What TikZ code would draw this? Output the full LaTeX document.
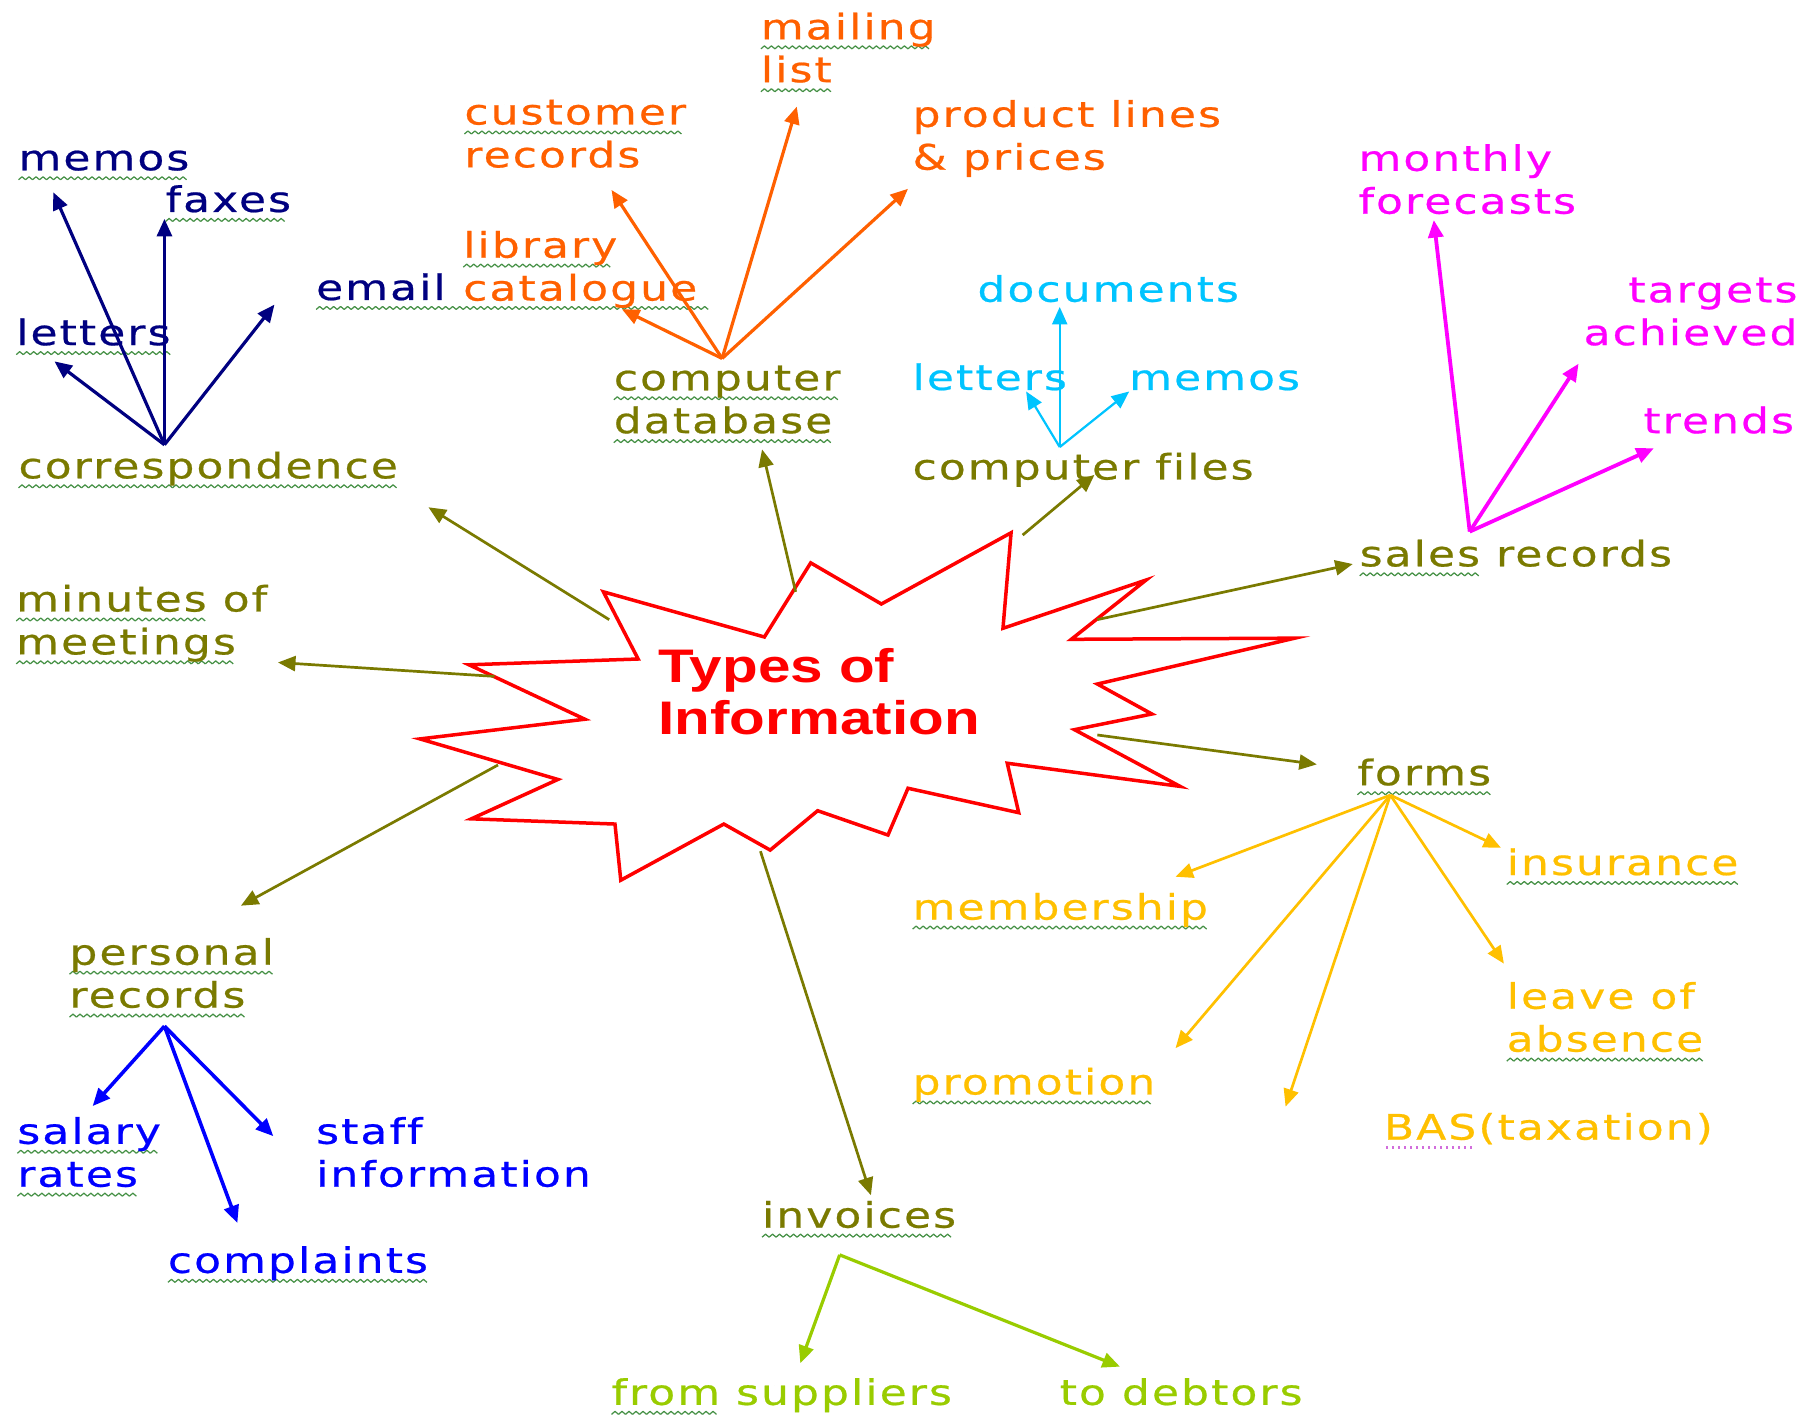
\documentclass[tikz,border=0pt]{standalone}
\usepackage{fontspec}
\usetikzlibrary{arrows.meta}
\newfontfamily\lblfont[FakeStretch=1.25,LetterSpace=6,Ligatures=NoCommon,FakeBold=0.6]{DejaVu Sans}
\newfontfamily\titlefont[FakeStretch=1.24]{Liberation Sans}
\definecolor{cNavy}{HTML}{000080}
\definecolor{cOlive}{HTML}{7A7A00}
\definecolor{cOrange}{HTML}{FF6000}
\definecolor{cCyan}{HTML}{00C4FF}
\definecolor{cMag}{HTML}{FF00FF}
\definecolor{cBlue}{HTML}{0000FF}
\definecolor{cGold}{HTML}{FFC000}
\definecolor{cLime}{HTML}{99CC00}
\definecolor{cRed}{HTML}{FF0000}
\definecolor{cSq}{RGB}{70,145,70}
\definecolor{cPink}{RGB}{210,110,220}
\newsavebox\zigbox
\newsavebox\dotbox
\newsavebox\sqtmp
\newcommand\sq[2][0pt]{\sbox\sqtmp{#2}\leavevmode\rlap{\raisebox{-0.95mm}[0pt][0pt]{\leaders\copy\zigbox\hskip\dimexpr\wd\sqtmp+#1\relax}}#2}
\newcommand\dq[1]{\sbox\sqtmp{#1}\leavevmode\rlap{\raisebox{-0.9mm}[0pt][0pt]{\leaders\copy\dotbox\hskip\wd\sqtmp}}#1}
\begin{document}
\sbox\zigbox{\begin{pgfpicture}%
\pgfpathrectangle{\pgfpoint{0mm}{0mm}}{\pgfpoint{0.7mm}{0.3mm}}\pgfusepath{use as bounding box}%
\pgfpathmoveto{\pgfpoint{0mm}{0mm}}\pgfpathlineto{\pgfpoint{0.35mm}{0.3mm}}\pgfpathlineto{\pgfpoint{0.7mm}{0mm}}%
\pgfsetlinewidth{0.35pt}\pgfsetcolor{cSq}\pgfsetroundjoin\pgfusepath{stroke}%
\end{pgfpicture}}%
\sbox\dotbox{\hbox to 0.6mm{\hss\textcolor{cPink}{\rule{0.25mm}{0.25mm}}\hss}}%
\begin{tikzpicture}[x=0.115816mm,y=-0.115816mm,
  lbl/.style={font=\lblfont\fontsize{10}{12.2}\selectfont, anchor=base west, inner sep=0pt, outer sep=0pt, align=left},
  arr/.style={-{Triangle[length=1.75mm,width=1.5mm]}, line width=0.3mm},
  burst/.style={draw=cRed, line width=0.35mm, fill=white, line join=miter}]
\useasboundingbox (0,0) rectangle (1568,1224);
\fill[white] (0,0) rectangle (1568,1224);

% starburst
\draw[burst] (521,511) -- (660,550) -- (700,486) -- (761,521.5) -- (873,460) -- (866,542.5)
  -- (989.6,500.8) -- (925,552) -- (1118,551) -- (947.5,590.6) -- (994.6,616.5) -- (927.7,630)
  -- (1019,679) -- (869.7,659) -- (879.6,701.7) -- (784,680.6) -- (766.7,721) -- (706,700)
  -- (665,734) -- (625,711.5) -- (536,760) -- (531,711.5) -- (407,707) -- (481.7,673)
  -- (362.6,638) -- (505,621) -- (404.9,574) -- (551,569) -- cycle;
% (multi-line nodes are placed at the baseline of their last line)
\node[anchor=base west, inner sep=0pt, align=left, text=cRed, font=\titlefont\bfseries\fontsize{13.4}{14.8}\selectfont] (title) at (568,634.6) {Types of\\Information};

% ---- labels
\node[lbl, text=cNavy] (memosA) at (16,147) {\sq{memos}};
\node[lbl, text=cNavy] (faxes) at (143,183) {\sq{faxes}};
\node[lbl, text=cNavy] (lettersA) at (14,298) {\sq{letters}};
\node[lbl, text=cNavy] (email) at (273,259) {\sq[26.6mm]{email}};
\node[lbl, text=cOlive] (corr) at (16,413) {\sq{correspondence}};

\node[lbl, text=cOrange] (mailing) at (657,71) {\sq{mailing}\\\sq{list}};
\node[lbl, text=cOrange] (customer) at (401,144.5) {\sq{customer}\\records};
\node[lbl, text=cOrange] (product) at (788,146.5) {product lines\\\& prices};
\node[lbl, text=cOrange] (library) at (400,259.5) {\sq{library}\\catalogue};

\node[lbl, text=cOlive] (db) at (530,374) {\sq{computer}\\\sq{database}};
\node[lbl, text=cOlive] (files) at (788,414) {computer files};
\node[lbl, text=cOlive] (sales) at (1174,489) {\sq{sales} records};
\node[lbl, text=cOlive] (minutes) at (14,565) {\sq{minutes} of\\\sq{meetings}};
\node[lbl, text=cOlive] (personal) at (60,870) {\sq{personal}\\\sq{records}};
\node[lbl, text=cOlive] (forms) at (1172,678) {\sq{forms}};
\node[lbl, text=cOlive] (invoices) at (658,1060) {\sq{invoices}};

\node[lbl, text=cCyan] (documents) at (844,260.5) {documents};
\node[lbl, text=cCyan] (lettersB) at (788,336.7) {letters};
\node[lbl, text=cCyan] (memosB) at (975,336.7) {memos};

\node[lbl, text=cMag] (monthly) at (1173,184.5) {monthly\\forecasts};
\node[lbl, text=cMag, anchor=base east, align=right] (targets) at (1552,298) {targets\\achieved};
\node[lbl, text=cMag] (trends) at (1419,374) {trends};

\node[lbl, text=cBlue] (salary) at (15,1024.6) {\sq{salary}\\\sq{rates}};
\node[lbl, text=cBlue] (staff) at (273,1024.6) {staff\\information};
\node[lbl, text=cBlue] (complaints) at (145,1099) {\sq{complaints}};

\node[lbl, text=cGold] (membership) at (788,794) {\sq{membership}};
\node[lbl, text=cGold] (insurance) at (1301,755.5) {\sq{insurance}};
\node[lbl, text=cGold] (leave) at (1301,908) {leave of\\\sq{absence}};
\node[lbl, text=cGold] (promotion) at (788,945) {\sq{promotion}};
\node[lbl, text=cGold] (bas) at (1195,984) {\dq{BAS}(taxation)};

\node[lbl, text=cLime] (suppliers) at (528,1213) {\sq{from} suppliers};
\node[lbl, text=cLime] (debtors) at (915,1213) {to debtors};

% ---- hubs and tips
\coordinate (hCorr) at (142,384);
\coordinate (tMemosA) at (46,166);
\coordinate (tFaxes) at (142,189);
\coordinate (tLettersA) at (47,312);
\coordinate (tEmail) at (237,263);

\coordinate (hDb) at (623.5,309.5);
\coordinate (tMailing) at (688,92);
\coordinate (tProduct) at (784,163);
\coordinate (tCustomer) at (528,164);
\coordinate (tLibrary) at (537,267);

\coordinate (hFiles) at (915,386);
\coordinate (tDocuments) at (915,265);
\coordinate (tLettersB) at (886,338);
\coordinate (tMemosB) at (975,338);

\coordinate (hSales) at (1269,459);
\coordinate (tMonthly) at (1238,190);
\coordinate (tTargets) at (1363,314);
\coordinate (tTrends) at (1428,387);

\coordinate (hPersonal) at (142,886);
\coordinate (tSalary) at (80,955);
\coordinate (tComplaints) at (205,1056);
\coordinate (tStaff) at (236,981);

\coordinate (hForms) at (1200.5,686.5);
\coordinate (tMembership) at (1015,757);
\coordinate (tInsurance) at (1296,732);
\coordinate (tLeave) at (1298.5,832);
\coordinate (tPromotion) at (1015,905);
\coordinate (tBas) at (1110,955.5);

\coordinate (hInvoices) at (725,1083.5);
\coordinate (tSuppliers) at (691,1177);
\coordinate (tDebtors) at (967,1180);

% starburst exits
\coordinate (sCorr) at (526,535);
\coordinate (sDb) at (687,511);
\coordinate (sFiles) at (883,462);
\coordinate (sSales) at (947.5,535);
\coordinate (sForms) at (947.5,634.6);
\coordinate (sMinutes) at (427,584);
\coordinate (sPersonal) at (430,660.5);
\coordinate (sInvoices) at (656.6,735);
\coordinate (tCorr) at (370,438);
\coordinate (tDb) at (658,388);
\coordinate (tFiles) at (945,410);
\coordinate (tSales) at (1168,487);
\coordinate (tForms) at (1137,660);
\coordinate (tMinutes) at (240,572);
\coordinate (tPersonal) at (208,782);
\coordinate (tInvoices) at (752,1032);

% ---- connectors
\begin{scope}[arr, draw=cOlive, line width=0.27mm]
\draw (sCorr) -- (tCorr);
\draw (sDb) -- (tDb);
\draw (sFiles) -- (tFiles);
\draw (sSales) -- (tSales);
\draw (sForms) -- (tForms);
\draw (sMinutes) -- (tMinutes);
\draw (sPersonal) -- (tPersonal);
\draw (sInvoices) -- (tInvoices);
\end{scope}
\begin{scope}[arr, draw=cNavy, line width=0.32mm]
\draw (hCorr) -- (tMemosA);
\draw (hCorr) -- (tFaxes);
\draw (hCorr) -- (tLettersA);
\draw (hCorr) -- (tEmail);
\end{scope}
\begin{scope}[arr, draw=cOrange, line width=0.32mm]
\draw (hDb) -- (tMailing);
\draw (hDb) -- (tProduct);
\draw (hDb) -- (tCustomer);
\draw (hDb) -- (tLibrary);
\end{scope}
\begin{scope}[arr, draw=cCyan, line width=0.22mm]
\draw (hFiles) -- (tDocuments);
\draw (hFiles) -- (tLettersB);
\draw (hFiles) -- (tMemosB);
\end{scope}
\begin{scope}[arr, draw=cMag, line width=0.38mm]
\draw (hSales) -- (tMonthly);
\draw (hSales) -- (tTargets);
\draw (hSales) -- (tTrends);
\end{scope}
\begin{scope}[arr, draw=cBlue, line width=0.36mm]
\draw (hPersonal) -- (tSalary);
\draw (hPersonal) -- (tComplaints);
\draw (hPersonal) -- (tStaff);
\end{scope}
\begin{scope}[arr, draw=cGold, line width=0.27mm]
\draw (hForms) -- (tMembership);
\draw (hForms) -- (tInsurance);
\draw (hForms) -- (tLeave);
\draw (hForms) -- (tPromotion);
\draw (hForms) -- (tBas);
\end{scope}
\begin{scope}[arr, draw=cLime, line width=0.32mm]
\draw (hInvoices) -- (tSuppliers);
\draw (hInvoices) -- (tDebtors);
\end{scope}
\end{tikzpicture}
\end{document}
